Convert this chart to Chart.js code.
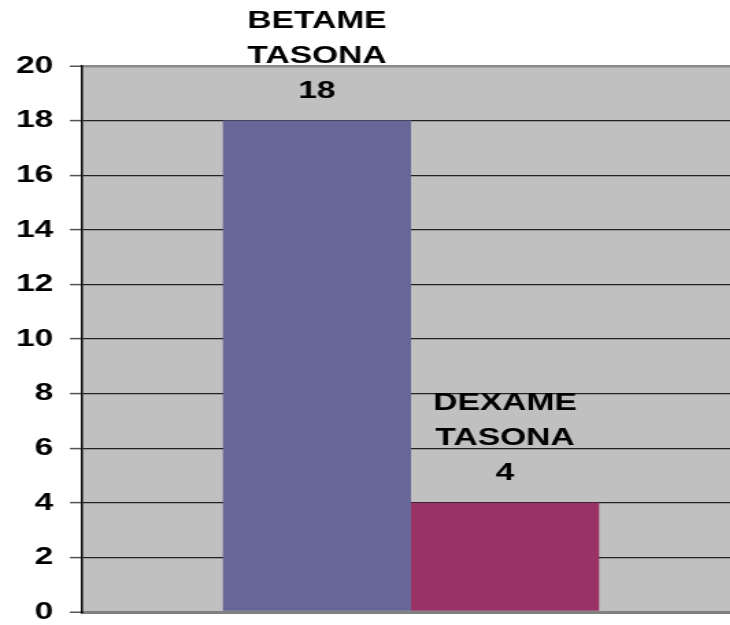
<!DOCTYPE html>
<html>
<head>
<meta charset="utf-8">
<script src="https://cdn.jsdelivr.net/npm/chart.js@4/dist/chart.umd.min.js"></script>
<style>
  html, body { margin: 0; padding: 0; background: #ffffff; overflow: hidden; width: 730px; height: 625px; }
  #clip { position: relative; width: 730px; height: 625px; overflow: hidden; }
  #wrap { position: absolute; left: 0; top: 0; width: 540px; height: 625px; transform: scaleX(1.37); transform-origin: 0 0; }
  canvas { display: block; }
</style>
</head>
<body>
<div id="clip"><div id="wrap"><canvas id="c" width="540" height="625"></canvas></div></div>
<script>
// ---- data ----
const categories = [''];
const seriesNames = [['BETAME', 'TASONA'], ['DEXAME', 'TASONA']];
const seriesValues = [[18], [4]];
const seriesColors = ['#666699', '#993366'];
const yTicks = [0, 2, 4, 6, 8, 10, 12, 14, 16, 18, 20];

const FONT = 'bold 24.5px "Liberation Sans", Arial, sans-serif';

function noPad(s) {
  s.paddingTop = 0; s.paddingBottom = 0; s.paddingLeft = 0; s.paddingRight = 0;
}

const plotBg = {
  id: 'plotBg',
  beforeDraw(chart) {
    const { ctx, chartArea: a } = chart;
    ctx.save();
    ctx.fillStyle = '#c0c0c0';
    ctx.fillRect(a.left, a.top, a.right - a.left, a.bottom - a.top);
    ctx.restore();
  }
};

const barLabels = {
  id: 'barLabels',
  afterDraw(chart) {
    const ctx = chart.ctx;
    ctx.save();
    ctx.font = FONT;
    ctx.fillStyle = '#000000';
    ctx.textAlign = 'center';
    ctx.textBaseline = 'alphabetic';
    chart.data.datasets.forEach((ds, i) => {
      const meta = chart.getDatasetMeta(i);
      meta.data.forEach((bar, j) => {
        const lines = [...seriesNames[i], String(ds.data[j])];
        const lh = 35.3;
        const base = bar.y - 22.5;
        lines.forEach((t, k) => {
          ctx.fillText(t, bar.x, base - (lines.length - 1 - k) * lh);
        });
      });
    });
    ctx.restore();
  }
};

new Chart(document.getElementById('c'), {
  type: 'bar',
  data: {
    labels: categories,
    datasets: seriesValues.map((v, i) => ({
      label: seriesNames[i].join(''),
      data: v,
      backgroundColor: seriesColors[i],
      borderWidth: 0,
      barPercentage: 1.0,
      categoryPercentage: 0.572
    }))
  },
  options: {
    responsive: false,
    animation: false,
    devicePixelRatio: 1,
    layout: { padding: { top: 66, bottom: 13, left: 0, right: 0 } },
    plugins: { legend: { display: false }, title: { display: false }, tooltip: { enabled: false } },
    scales: {
      x: {
        grid: { display: false, drawTicks: false },
        ticks: { display: false },
        border: { display: true, color: '#808080', width: 3 },
        afterFit(s) { s.height = 0; noPad(s); }
      },
      y: {
        min: 0,
        max: 20,
        afterBuildTicks(s) { s.ticks = yTicks.map(v => ({ value: v })); },
        ticks: {
          color: '#000000',
          font: { family: '"Liberation Sans", Arial, sans-serif', size: 24.5, weight: 'bold' },
          padding: 12
        },
        grid: {
          color: c => (c.tick && (c.tick.value === 20 || c.tick.value === 0)) ? '#8a8a8a' : '#222222',
          lineWidth: c => (c.tick && (c.tick.value === 20 || c.tick.value === 0)) ? 2.5 : 1.2,
          tickColor: '#555555',
          tickWidth: 1.5,
          tickLength: 9
        },
        border: { display: true, color: '#000000', width: 1.5 },
        afterFit(s) { s.width = 60; noPad(s); }
      }
    }
  },
  plugins: [plotBg, barLabels]
});
</script>
</body>
</html>
